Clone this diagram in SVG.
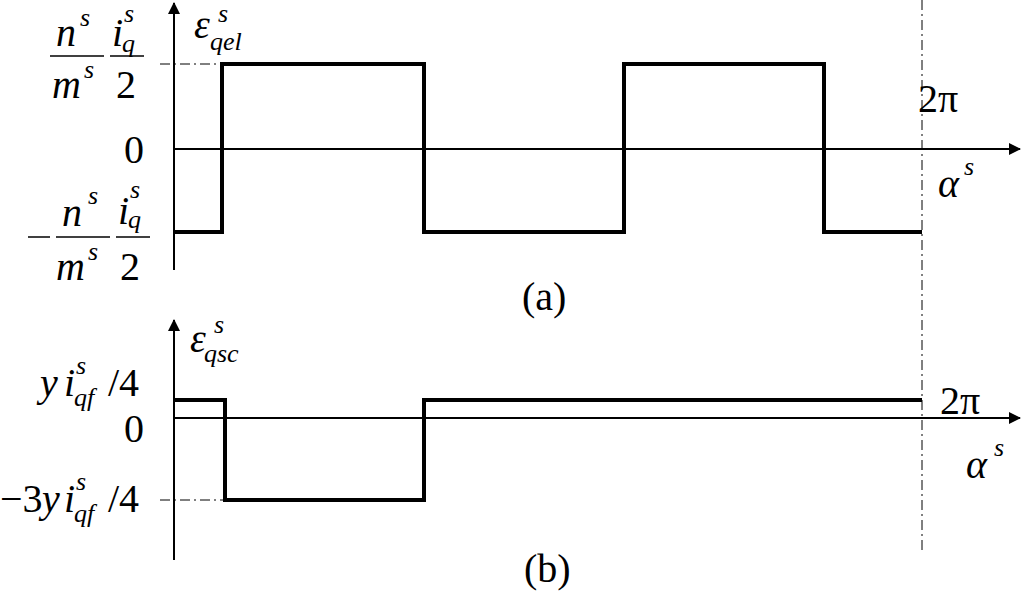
<svg xmlns="http://www.w3.org/2000/svg" width="1024" height="591" viewBox="0 0 1024 591">
<defs><marker id="ar" markerWidth="12" markerHeight="12" refX="11" refY="6" orient="auto" markerUnits="userSpaceOnUse"><path d="M0,0 L12,6 L0,12 Z" fill="#000"/></marker></defs>
<style>
text{font-family:"Liberation Serif","DejaVu Serif",serif;font-size:40px;fill:#000}
.i{font-style:italic}
.s{font-size:26px;font-style:italic}
.ax{stroke:#000;stroke-width:2;fill:none}
.w{stroke:#000;stroke-width:4;fill:none}
.dd{stroke:#000;stroke-width:1;stroke-dasharray:10,4,2,4;fill:none}
</style>
<rect width="1024" height="591" fill="#fff"/>
<g id="connectors">
<line class="ax" x1="174" y1="270" x2="174" y2="3" marker-end="url(#ar)"/>
<line class="ax" x1="174" y1="149" x2="1020" y2="149" marker-end="url(#ar)"/>
<line class="dd" x1="160" y1="64" x2="222" y2="64"/>
<line class="dd" x1="922" y1="0" x2="922" y2="550"/>
<polyline class="w" points="174,232 222,232 222,64 424,64 424,232 624,232 624,64 824,64 824,232 922,232"/>
<line class="ax" x1="174" y1="560" x2="174" y2="320" marker-end="url(#ar)"/>
<line class="ax" x1="174" y1="418" x2="1020" y2="418" marker-end="url(#ar)"/>
<line class="dd" x1="160" y1="500" x2="225" y2="500"/>
<polyline class="w" points="174,400 225,400 225,500 424,500 424,400 922,400"/>
</g>
<g id="labels-a">
<text class="i" x="56" y="46">n</text><text class="s" x="80" y="26">s</text>
<line x1="50" y1="56" x2="104" y2="56" stroke="#000" stroke-width="1.5"/>
<text class="i" x="52" y="98">m</text><text class="s" x="84" y="78">s</text>
<text class="i" x="112" y="46">i</text><text class="s" x="124" y="22">s</text><text class="s" x="122" y="52">q</text>
<line x1="110" y1="56" x2="144" y2="56" stroke="#000" stroke-width="1.5"/>
<text x="116" y="98">2</text>
<text x="124" y="163">0</text>
<line x1="28" y1="237" x2="50" y2="237" stroke="#000" stroke-width="1.5"/>
<text class="i" x="62" y="226">n</text><text class="s" x="88" y="204">s</text>
<line x1="56" y1="237" x2="110" y2="237" stroke="#000" stroke-width="1.5"/>
<text class="i" x="56" y="280">m</text><text class="s" x="88" y="260">s</text>
<text class="i" x="118" y="224">i</text><text class="s" x="130" y="198">s</text><text class="s" x="128" y="228">q</text>
<line x1="116" y1="237" x2="150" y2="237" stroke="#000" stroke-width="1.5"/>
<text x="120" y="280">2</text>
<text class="i" x="194" y="38">ε</text><text class="s" x="218" y="22">s</text><text class="s" x="210" y="50">qel</text>
<text x="918" y="112">2π</text>
<text class="i" x="938" y="197">α</text><text class="s" x="964" y="175">s</text>
<text x="522" y="310">(a)</text>
</g>
<g id="labels-b">
<text class="i" x="190" y="352">ε</text><text class="s" x="214" y="333">s</text><text class="s" x="204" y="362">qsc</text>
<text class="i" x="40" y="396">y</text><text class="i" x="64" y="396">i</text><text class="s" x="76" y="374">s</text><text class="s" x="74" y="406">qf</text>
<text x="108" y="396" font-size="44">/4</text>
<text x="124" y="442">0</text>
<text x="0" y="512">−3</text><text class="i" x="42" y="512">y</text><text class="i" x="64" y="512">i</text><text class="s" x="76" y="490">s</text><text class="s" x="74" y="522">qf</text>
<text x="108" y="512" font-size="44">/4</text>
<text x="940" y="414">2π</text>
<text class="i" x="966" y="478">α</text><text class="s" x="994" y="456">s</text>
<text x="524" y="582">(b)</text>
</g>
</svg>
